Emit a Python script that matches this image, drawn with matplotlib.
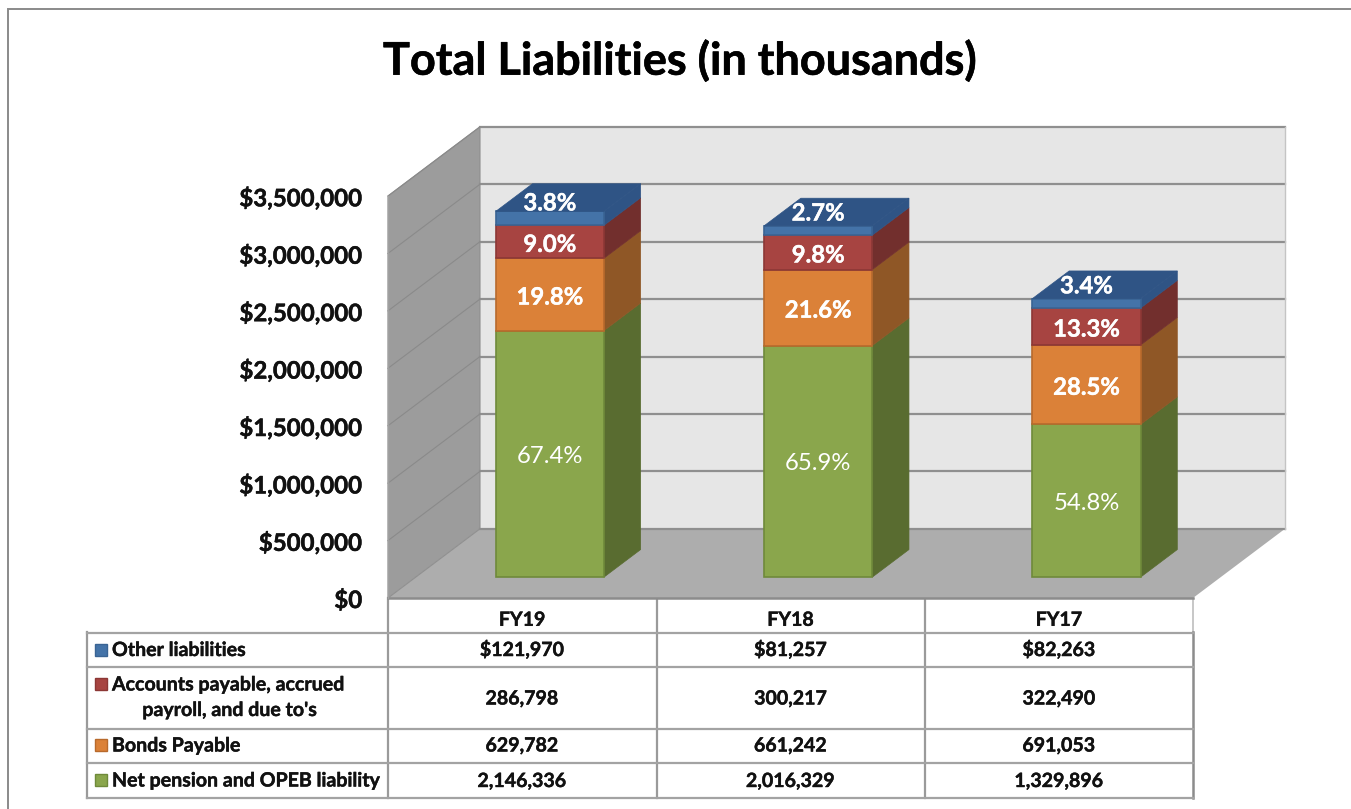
import matplotlib
matplotlib.use("Agg")
import matplotlib.pyplot as plt
from matplotlib.patches import Polygon, Rectangle
import matplotlib.patheffects as pe

plt.rcParams['font.family'] = ['Lato', 'DejaVu Sans']

W, H = 1351, 809
TITLE = "Total Liabilities (in thousands)"
years = ["FY19", "FY18", "FY17"]
other = [121970, 81257, 82263]
accounts = [286798, 300217, 322490]
bonds = [629782, 661242, 691053]
pension = [2146336, 2016329, 1329896]
pct_other = ["3.8%", "2.7%", "3.4%"]
pct_accounts = ["9.0%", "9.8%", "13.3%"]
pct_bonds = ["19.8%", "21.6%", "28.5%"]
pct_pension = ["67.4%", "65.9%", "54.8%"]
yticks = [0, 500000, 1000000, 1500000, 2000000, 2500000, 3000000, 3500000]
row_names = ["Other liabilities", "Accounts payable, accrued", "Bonds Payable",
             "Net pension and OPEB liability"]

# series from bottom to top: values, labels, front, side, top, edge, bold
series = [
    (pension, pct_pension, "#8aa64c", "#596c30", "#596c30", "#6f8a3a", False),
    (bonds, pct_bonds, "#db8138", "#8f5726", "#8f5726", "#b86a2c", True),
    (accounts, pct_accounts, "#a74441", "#722f2d", "#722f2d", "#8c3735", True),
    (other, pct_other, "#4473a8", "#2f5485", "#2f5485", "#3a6494", True),
]

fig = plt.figure(figsize=(W / 100, H / 100), dpi=100, facecolor="white")


def heavy(color, w=0.3):
    return [pe.withStroke(linewidth=w, foreground=color)]


# page-level layer, in pixels: frame and table
pg = fig.add_axes([0, 0, 1, 1])
pg.set_xlim(0, W)
pg.set_ylim(H, 0)
pg.axis("off")
GRID = "#a3a3a3"
pg.plot([8, 8, W], [H, 8.5, 8.5], color="#8a8a8a", lw=1.4, solid_joinstyle="miter")
for x, y0, y1 in [(656.5, 598, 798), (925, 598, 798), (387.5, 598, 798)]:
    pg.plot([x, x], [y0, y1], color="#9a9a9a", lw=1.6)
pg.plot([1193, 1193], [598, 632], color="#bdbdbd", lw=1.2)
pg.plot([1193, 1193], [632, 798], color="#8c8c8c", lw=1.8)
pg.plot([87, 87], [632, 798], color="#9a9a9a", lw=1.6)
for y in [632.5, 667, 728.5, 763, 798]:
    pg.plot([87, 1193], [y, y], color=GRID, lw=1.6)

row_y = [649.5, 698.5, 745.5, 781]
sw_y = [649.5, 684, 745, 780]
colors = [s[2] for s in series][::-1]
edges = [s[5] for s in series][::-1]
rows = [other, accounts, bonds, pension]
for r, (name, yy, sy) in enumerate(zip(row_names, row_y, sw_y)):
    pg.add_patch(Rectangle((95, sy - 6), 12, 12, fc=colors[r], ec=edges[r], lw=1))
    pg.text(112, sy + 0.5, name, fontsize=14.1, fontweight="bold", va="center", ha="left",
            color="#111111", path_effects=heavy("#111111"))
    for c, v in enumerate(rows[r]):
        txt = f"${v:,}" if r == 0 else f"{v:,}"
        pg.text(522 + c * 268.5, yy, txt, fontsize=14.1, fontweight="bold",
                va="center", ha="center", color="#111111", path_effects=heavy("#111111"))
pg.text(230, 710, "payroll, and due to's", fontsize=14.1, fontweight="bold",
        va="center", ha="center", color="#111111", path_effects=heavy("#111111"))
pg.text(679.5, 61, TITLE, fontsize=32.4, fontweight="bold", va="center", ha="center",
        color="black", path_effects=heavy("black", 0.4))

# chart: front plane of the 3-D box
L, R, B, T = 388, 1193, 598, 196
ax = fig.add_axes([L / W, 1 - B / H, (R - L) / W, (B - T) / H])
ax.patch.set_alpha(0)
ax.set_xlim(0, 3)
ax.set_ylim(0, 3500000)
for s in ax.spines.values():
    s.set_visible(False)
DX = 92 / ((R - L) / 3)
DY = 69.2 / ((B - T) / 3500000)
YMAX = yticks[-1]

ax.add_patch(Polygon([(DX, DY), (3 + DX, DY), (3 + DX, YMAX + DY), (DX, YMAX + DY)],
                     fc="#e6e6e6", ec="none", clip_on=False, zorder=1))
ax.add_patch(Polygon([(0, 0), (DX, DY), (DX, YMAX + DY), (0, YMAX)],
                     fc="#9c9c9c", ec="#8f8f8f", lw=0.8, clip_on=False, zorder=1.2))
ax.add_patch(Polygon([(0, 0), (3, 0), (3 + DX, DY), (DX, DY)],
                     fc="#adadad", ec="none", clip_on=False, zorder=1.1))
for t in yticks:
    ax.plot([DX, 3 + DX], [t + DY, t + DY], color="#8f8f8f", lw=1.6, clip_on=False, zorder=1.5)
    if 0 < t:
        ax.plot([0, DX], [t, t + DY], color="#8a8a8a", lw=0.8, clip_on=False, zorder=1.6)
ax.plot([3 + DX, 3 + DX], [DY, YMAX + DY], color="#c4c4c4", lw=1, clip_on=False, zorder=1.5)
ax.plot([0, 3], [0, 0], color="#8c8c8c", lw=1.8, clip_on=False, zorder=1.7)
ax.plot([0, 0], [0, YMAX], color="#a0a0a0", lw=1, clip_on=False, zorder=1.7)

# bars
BW = 0.403
D0, D1 = 0.30, 0.70
SHIFT_PX = 2.5
label_shift = [-18, -20, -20]  # blue labels sit above their thin segments
for i in range(3):
    x0 = i + 0.5 + D0 * DX - BW / 2
    x1 = x0 + BW
    base = D0 * DY
    ddx, ddy = (D1 - D0) * DX, (D1 - D0) * DY
    for vals, labels, front, side, top, edge, bold in series:
        v = vals[i]
        ax.add_patch(Polygon([(x1, base), (x1 + ddx, base + ddy), (x1 + ddx, base + v + ddy), (x1, base + v)],
                             fc=side, ec=side, lw=0.5, clip_on=False, zorder=3))
        ax.bar(x0 + BW / 2, v, BW, bottom=base, color=front, edgecolor=edge, linewidth=1.2, zorder=4, clip_on=False)
        if vals is other:
            ax.add_patch(Polygon([(x0, base + v), (x1, base + v), (x1 + ddx, base + v + ddy), (x0 + ddx, base + v + ddy)],
                                 fc=top, ec=top, lw=0.5, clip_on=False, zorder=4))
        off = label_shift[i] if vals is other else 0
        ax.annotate(labels[i], (x0 + BW / 2, base + v / 2), xytext=(0, -(off + SHIFT_PX) * 0.72),
                    textcoords="offset points", ha="center", va="center", color="white",
                    fontsize=17.2, fontweight="bold" if bold else "normal", zorder=6, annotation_clip=False,
                    path_effects=heavy("white", 0.3) if bold else None)
        base += v

ax.set_yticks(yticks, [f"${t:,}" for t in yticks], fontsize=17.3, fontweight="bold", color="#111111",
              path_effects=heavy("#111111", 0.35))
ax.set_xticks([0.5, 1.5, 2.5], years, fontsize=14.1, fontweight="bold", color="#111111",
              path_effects=heavy("#111111"))
ax.tick_params(axis="y", length=0, pad=18.5)
ax.tick_params(axis="x", length=0, pad=8.5)

fig.savefig("out.png", dpi=100)
